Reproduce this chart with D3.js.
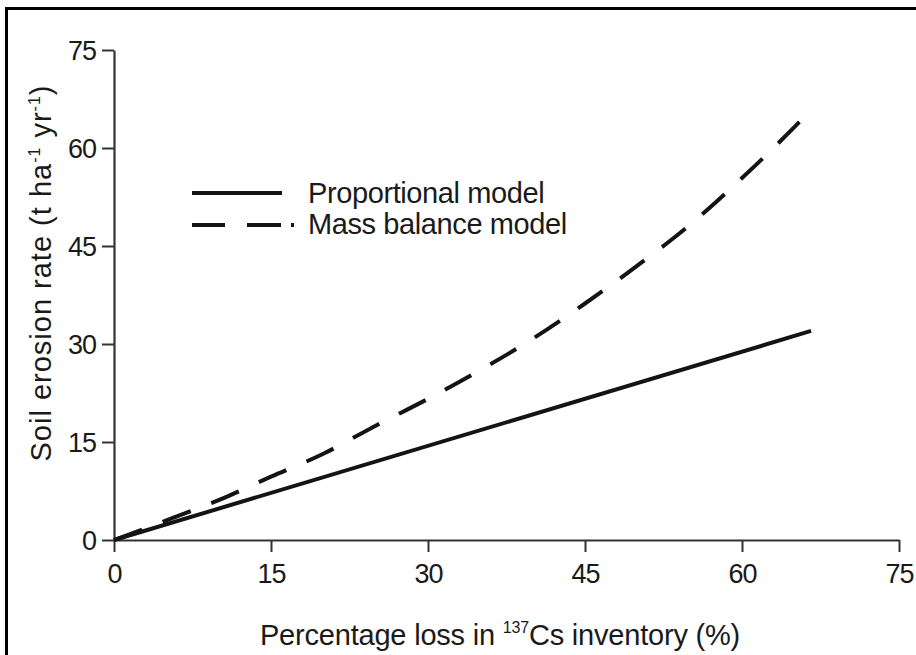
<!DOCTYPE html>
<html>
<head>
<meta charset="utf-8">
<script src="https://cdn.jsdelivr.net/npm/d3@7"></script>
<style>
  html, body { margin: 0; padding: 0; background: #fff; }
  svg { display: block; }
  text { font-family: "Liberation Sans", Arial, Helvetica, sans-serif; fill: #1a1a1a; }
</style>
</head>
<body>
<svg id="chart" width="916" height="655"></svg>
<script>
// ---- data ----
const xTicks = [0, 15, 30, 45, 60, 75];
const yTicks = [0, 15, 30, 45, 60, 75];
const propX = [0, 66.6];
const propY = [0, 32];
const massX = [0, 5, 10, 15, 20, 25, 30, 35, 40, 45, 50, 55, 60, 65, 66.7];
const massY = [0, 3.0, 6.1, 9.7, 13.2, 17.5, 21.6, 26.0, 30.8, 36.2, 42.0, 48.2, 55.4, 63.2, 66.0];
const seriesNames = ["Proportional model", "Mass balance model"];

// ---- chart ----
const svg = d3.select("#chart");
const ink = "#141414";

// outer frame
svg.append("rect")
  .attr("x", 6.5).attr("y", 8.5).attr("width", 930).attr("height", 700)
  .attr("fill", "none").attr("stroke", "#000").attr("stroke-width", 3);

const x = d3.scaleLinear().domain([0, 75]).range([114, 899]);
const y = d3.scaleLinear().domain([0, 75]).range([540, 50]);

// x axis
const xAxis = svg.append("g")
  .attr("transform", `translate(0,${y(0)})`)
  .call(d3.axisBottom(x).tickValues(xTicks).tickSize(12).tickPadding(12).tickSizeOuter(0));
// y axis
const yAxis = svg.append("g")
  .attr("transform", `translate(${x(0)},0)`)
  .call(d3.axisLeft(y).tickValues(yTicks).tickSize(12).tickPadding(6).tickSizeOuter(0));

[xAxis, yAxis].forEach(g => {
  g.select(".domain").attr("stroke", "#333").attr("stroke-width", 2.2);
  g.selectAll(".tick line").attr("stroke", "#333").attr("stroke-width", 2);
  g.selectAll(".tick text")
    .attr("fill", "#1a1a1a")
    .style("font-size", "27px")
    .style("letter-spacing", "-1px")
    .attr("font-family", "'Liberation Sans', Arial, sans-serif");
});
xAxis.selectAll(".tick text").attr("dy", "0.71em");
yAxis.selectAll(".tick text").attr("dy", "0.36em");

// lines
const line = d3.line().x(d => x(d[0])).y(d => y(d[1]));
const massLine = d3.line().x(d => x(d[0])).y(d => y(d[1])).curve(d3.curveMonotoneX);

svg.append("path")
  .datum(propX.map((v, i) => [v, propY[i]]))
  .attr("d", line)
  .attr("fill", "none").attr("stroke", ink).attr("stroke-width", 4);

svg.append("path")
  .datum(massX.map((v, i) => [v, massY[i]]))
  .attr("d", massLine)
  .attr("fill", "none").attr("stroke", ink).attr("stroke-width", 4)
  .attr("stroke-dasharray", "30,22");

// legend
svg.append("line")
  .attr("x1", 192).attr("x2", 282).attr("y1", 193).attr("y2", 193)
  .attr("stroke", ink).attr("stroke-width", 4);
svg.append("line")
  .attr("x1", 192).attr("x2", 296).attr("y1", 225).attr("y2", 225)
  .attr("stroke", ink).attr("stroke-width", 4)
  .attr("stroke-dasharray", "33,22,34,10,3,100");
svg.append("text").attr("x", 308).attr("y", 203)
  .style("font-size", "29px").style("letter-spacing", "-0.4px").text(seriesNames[0]);
svg.append("text").attr("x", 308).attr("y", 234)
  .style("font-size", "29px").style("letter-spacing", "-0.4px").text(seriesNames[1]);

// y-axis title
const yt = svg.append("text")
  .attr("transform", "translate(51,273) rotate(-90)")
  .attr("text-anchor", "middle")
  .style("font-size", "29px")
  .style("letter-spacing", "1px");
yt.append("tspan").text("Soil erosion rate (t ha");
yt.append("tspan").attr("dy", -11).style("font-size", "16px").text("-1");
yt.append("tspan").attr("dy", 11).text(" yr");
yt.append("tspan").attr("dy", -11).style("font-size", "16px").text("-1");
yt.append("tspan").attr("dy", 11).text(")");

// x-axis title
const xt = svg.append("text")
  .attr("x", 500).attr("y", 645)
  .attr("text-anchor", "middle")
  .style("font-size", "29px")
  .style("letter-spacing", "-0.2px");
xt.append("tspan").text("Percentage loss in ");
xt.append("tspan").attr("dy", -12).style("font-size", "16px").text("137");
xt.append("tspan").attr("dy", 12).text("Cs inventory (%)");
</script>
</body>
</html>
